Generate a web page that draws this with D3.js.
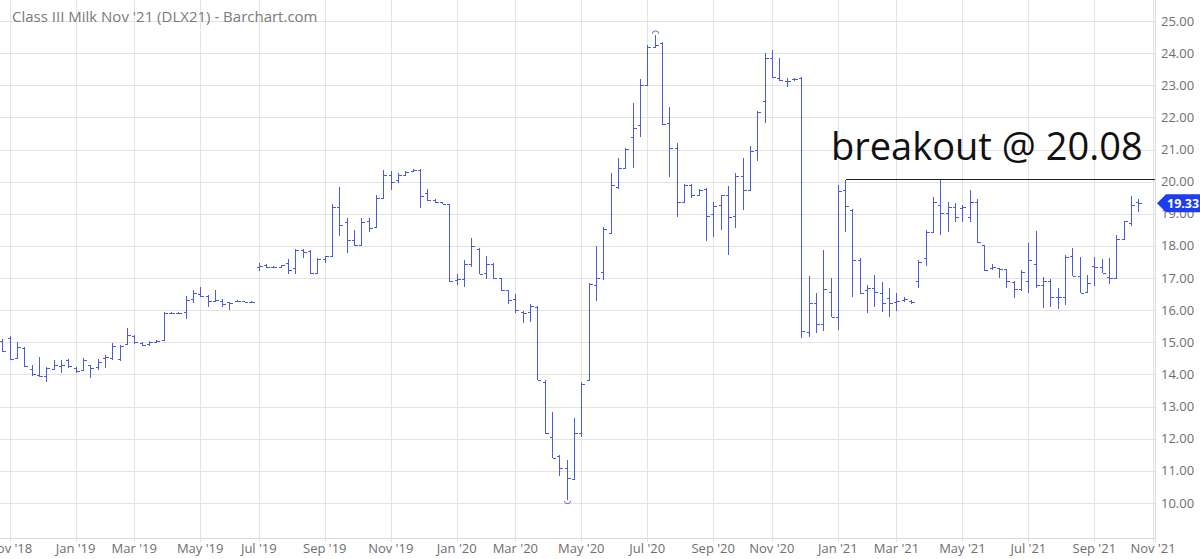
<!DOCTYPE html>
<html>
<head>
<meta charset="utf-8">
<script src="https://cdn.jsdelivr.net/npm/d3@7"></script>
<style>
  html, body { margin: 0; padding: 0; background: #fff; }
  svg { display: block; font-family: "Open Sans", "Noto Sans", sans-serif; }
</style>
</head>
<body>
<svg id="chart" width="1200" height="559"></svg>
<script>
// weekly bars, first week starts Monday 29 Oct 2018
const firstWeek = "2018-10-29";

const opens = [
  15.05,15.15,14.50,14.82,14.18,13.98,13.96,14.18,14.25,14.45,
  14.20,14.15,14.28,14.23,14.50,14.50,14.47,14.96,15.20,14.97,
  14.95,15.00,15.08,15.92,15.90,15.93,16.35,16.50,16.44,16.30,
  16.30,16.25,16.28,16.28,16.26,17.35,17.42,17.35,17.34,17.48,
  17.30,17.88,17.85,17.17,17.60,17.70,19.22,18.75,18.17,18.03,
  18.78,18.58,19.48,20.20,20.05,20.20,20.33,20.36,19.65,19.42,
  19.36,19.30,16.95,16.97,17.45,17.92,17.15,17.43,17.00,16.62,
  16.35,15.95,15.95,16.10,13.77,12.06,11.45,11.10,10.74,12.17,
  13.82,16.77,17.20,18.40,19.82,20.44,21.40,21.75,23.01,24.18,
  24.30,21.82,21.06,19.36,19.90,19.59,19.78,18.99,19.28,19.57,
  18.92,20.19,19.75,21.00,22.52,23.84,23.22,23.12,23.18,23.22,
  15.33,16.23,15.56,16.58,15.80,19.74,19.12,17.56,16.63,16.70,
  16.55,16.37,16.25,16.32,16.30,16.92,17.61,18.44,19.27,19.04,
  19.20,19.17,18.89,19.38,18.03,17.30,17.30,17.27,16.87,16.65,
  16.90,17.44,16.79,16.92,16.42,16.42,17.68,17.07,16.58,17.36,
  17.34,17.03,17.00,18.21,18.72,19.38
];
const highs = [
  15.10,15.20,15.00,14.86,14.30,14.54,14.23,14.46,14.44,14.48,
  14.23,14.51,14.30,14.48,14.61,14.98,14.93,15.44,15.23,15.00,
  15.05,15.08,15.93,15.95,15.94,16.43,16.62,16.72,16.47,16.62,
  16.36,16.26,16.32,16.30,16.28,17.46,17.45,17.38,17.42,17.60,
  17.90,17.92,17.87,17.64,17.70,19.32,19.82,18.86,18.50,18.86,
  18.86,19.58,20.36,20.34,20.26,20.34,20.38,20.38,19.76,19.45,
  19.38,19.32,17.12,17.55,18.25,17.94,17.70,17.47,17.01,16.64,
  16.49,15.98,16.20,16.12,13.82,12.84,11.49,11.34,12.63,13.77,
  16.85,17.99,18.60,20.27,20.75,21.04,22.44,23.20,24.24,24.57,
  24.34,22.31,21.20,19.92,19.92,19.78,19.80,19.36,19.59,19.88,
  20.27,20.73,21.10,22.20,24.00,24.10,23.84,23.22,23.24,23.27,
  17.05,16.55,17.87,16.99,19.90,20.05,19.14,17.61,16.78,17.10,
  16.89,16.68,16.52,16.42,16.32,17.56,18.50,19.53,20.08,19.38,
  19.35,19.27,19.74,19.45,18.03,17.44,17.30,17.27,16.90,17.26,
  18.10,18.45,17.03,16.96,16.68,17.72,17.93,17.67,17.10,17.67,
  17.59,17.62,18.34,18.79,19.55,19.45
];
const lows = [
  14.70,14.44,14.48,14.23,13.96,13.92,13.78,14.15,14.04,14.20,
  14.04,14.10,13.89,14.15,14.20,14.46,14.41,14.93,14.96,14.90,
  14.90,14.98,15.08,15.88,15.88,15.72,16.22,16.42,16.10,16.26,
  16.10,16.02,16.26,16.24,16.22,17.23,17.32,17.32,17.32,17.12,
  17.14,17.64,17.14,17.14,17.46,17.70,18.30,17.79,18.00,18.03,
  18.44,18.55,19.48,19.74,19.95,20.18,20.32,19.17,19.40,19.35,
  19.30,16.88,16.77,16.72,17.34,17.12,16.97,16.97,16.60,16.20,
  15.92,15.60,15.64,13.82,12.15,11.39,10.84,10.10,10.72,12.06,
  13.82,16.30,16.95,18.40,19.78,20.44,20.42,21.38,23.01,24.18,
  21.77,20.16,18.89,19.33,19.49,19.57,18.16,18.29,18.50,17.72,
  18.57,19.12,19.70,20.63,21.82,23.22,23.14,22.96,23.12,15.13,
  15.18,15.30,15.36,15.78,15.38,18.44,16.42,16.50,15.92,16.11,
  15.95,15.78,15.99,16.27,16.20,16.68,17.38,18.44,18.34,18.44,
  18.76,18.76,18.76,18.08,17.23,17.25,17.00,16.68,16.37,16.61,
  16.55,16.68,16.06,16.11,16.03,16.17,17.05,16.53,16.53,16.76,
  17.15,16.82,17.00,18.21,18.62,19.07
];
const closes = [
  14.72,14.47,14.85,14.25,14.00,13.96,14.20,14.30,14.30,14.25,
  14.12,14.45,14.20,14.40,14.55,14.90,14.88,15.23,15.00,14.92,
  15.00,15.05,15.90,15.90,15.92,16.33,16.55,16.45,16.28,16.32,
  16.20,16.22,16.30,16.27,16.25,17.38,17.35,17.34,17.40,17.25,
  17.87,17.82,17.17,17.60,17.70,19.22,18.65,18.18,18.03,18.75,
  18.55,19.50,20.20,20.00,20.20,20.30,20.36,19.56,19.43,19.38,
  19.32,16.91,16.97,17.45,17.99,17.14,17.43,16.99,16.62,16.33,
  16.02,15.92,16.12,13.84,12.17,11.41,11.08,10.77,12.17,13.70,
  16.83,17.00,18.53,19.90,20.44,21.02,21.67,23.00,24.20,24.26,
  21.79,21.04,19.36,19.90,19.59,19.75,18.92,19.23,19.57,18.89,
  20.19,19.75,20.94,22.18,23.84,23.25,23.17,23.12,23.20,15.36,
  16.23,15.56,16.65,15.80,19.72,19.24,17.56,16.52,16.68,16.58,
  16.23,16.21,16.30,16.34,16.24,17.51,18.44,19.38,19.04,19.22,
  18.89,19.20,19.38,18.13,17.25,17.34,17.27,16.90,16.65,17.18,
  17.56,16.79,16.92,16.42,16.42,17.65,17.07,16.55,16.84,17.34,
  17.17,17.00,18.21,18.79,19.28,19.33
];

const yTicks = [10,11,12,13,14,15,16,17,18,19,20,21,22,23,24,25];
const tickMonths = ["2018-11","2019-01","2019-03","2019-05","2019-07","2019-09","2019-11",
  "2020-01","2020-03","2020-05","2020-07","2020-09","2020-11",
  "2021-01","2021-03","2021-05","2021-07","2021-09","2021-11"];

const titleText = "Class III Milk Nov '21 (DLX21) - Barchart.com";
const breakoutLevel = 20.08;
const breakoutFrom = 115;     // bar index where the line starts
const lastPrice = 19.33;
const highIdx = 89, lowIdx = 77;

const svg = d3.select("#chart");
const plotRight = 1155, plotBottom = 538;

const parseDay = d3.timeParse("%Y-%m-%d");
const start = parseDay(firstWeek);
const bars = opens.map((o, i) => ({
  date: d3.timeDay.offset(start, 7 * i),
  o, h: highs[i], l: lows[i], c: closes[i]
}));

const x = d3.scaleTime()
  .domain([new Date(2019, 0, 1), new Date(2021, 10, 1)])
  .range([69.3, 1153]);
const y = d3.scaleLinear().domain([10, 25]).range([503, 21]);

const tickDates = tickMonths.map(m => d3.timeMonday.ceil(d3.timeParse("%Y-%m")(m)));
const fmtMonth = d3.timeFormat("%b '%y");

// grid
const grid = svg.append("g").attr("shape-rendering", "crispEdges");
grid.selectAll("line.h").data(yTicks).enter().append("line")
  .attr("x1", 0).attr("x2", plotRight)
  .attr("y1", d => Math.round(y(d)) + 0.5).attr("y2", d => Math.round(y(d)) + 0.5)
  .attr("stroke", "#e3e3e3");
grid.selectAll("line.v").data(tickDates).enter().append("line")
  .attr("x1", d => Math.round(x(d)) + 0.5).attr("x2", d => Math.round(x(d)) + 0.5)
  .attr("y1", 0).attr("y2", plotBottom + 4)
  .attr("stroke", "#e3e3e3");
grid.append("line")
  .attr("x1", 0).attr("x2", plotRight).attr("y1", plotBottom + 0.5).attr("y2", plotBottom + 0.5)
  .attr("stroke", "#dadada");
grid.append("line")
  .attr("x1", plotRight + 0.5).attr("x2", plotRight + 0.5).attr("y1", 0).attr("y2", plotBottom + 4)
  .attr("stroke", "#dadada");

// title
svg.append("text")
  .attr("x", 12).attr("y", 22)
  .attr("fill", "#7a7a7a").attr("font-size", 15)
  .text(titleText);

// axis labels
svg.append("g").selectAll("text").data(yTicks).enter().append("text")
  .attr("x", 1161).attr("y", d => y(d) + 4.5)
  .attr("font-size", 13).attr("fill", "#6e6e6e")
  .text(d => d3.format(".2f")(d));
svg.append("g").selectAll("text").data(tickDates).enter().append("text")
  .attr("x", d => x(d)).attr("y", 553)
  .attr("text-anchor", "middle")
  .attr("font-size", 13).attr("fill", "#6e6e6e")
  .text(d => fmtMonth(d));

// OHLC bars
const barColor = "#4a5cd6";
const g = svg.append("g").attr("stroke", barColor).attr("shape-rendering", "crispEdges");
const bx = d => Math.round(x(d.date)) + 0.5;
g.selectAll("line.hl").data(bars).enter().append("line")
  .attr("x1", bx).attr("x2", bx)
  .attr("y1", d => y(d.h)).attr("y2", d => y(d.l));
g.selectAll("line.o").data(bars).enter().append("line")
  .attr("x1", d => bx(d) - 3).attr("x2", bx)
  .attr("y1", d => Math.round(y(d.o)) + 0.5).attr("y2", d => Math.round(y(d.o)) + 0.5);
g.selectAll("line.c").data(bars).enter().append("line")
  .attr("x1", bx).attr("x2", d => bx(d) + 3)
  .attr("y1", d => Math.round(y(d.c)) + 0.5).attr("y2", d => Math.round(y(d.c)) + 0.5);

// high / low markers
const arc = d3.arc().innerRadius(2.2).outerRadius(2.2);
svg.append("path")
  .attr("transform", `translate(${bx(bars[highIdx])},${y(bars[highIdx].h) - 1})`)
  .attr("d", d3.arc()({innerRadius: 2.5, outerRadius: 3.3, startAngle: -Math.PI / 2, endAngle: Math.PI / 2}))
  .attr("fill", barColor);
svg.append("path")
  .attr("transform", `translate(${bx(bars[lowIdx])},${y(bars[lowIdx].l) + 1})`)
  .attr("d", d3.arc()({innerRadius: 2.5, outerRadius: 3.3, startAngle: Math.PI / 2, endAngle: Math.PI * 1.5}))
  .attr("fill", barColor);

// breakout annotation
svg.append("line")
  .attr("x1", bx(bars[breakoutFrom])).attr("x2", plotRight)
  .attr("y1", Math.round(y(breakoutLevel)) + 0.5).attr("y2", Math.round(y(breakoutLevel)) + 0.5)
  .attr("stroke", "#222").attr("stroke-width", 1).attr("shape-rendering", "crispEdges");
svg.append("text")
  .attr("x", 831).attr("y", 160)
  .attr("font-size", 38).attr("fill", "#111")
  .text("breakout @ " + breakoutLevel.toFixed(2));

// last price badge
const py = y(lastPrice);
svg.append("path")
  .attr("d", `M1157,${py} L1166,${py - 9} L1200,${py - 9} L1200,${py + 9} L1166,${py + 9} Z`)
  .attr("fill", "#1e3cf0");
svg.append("text")
  .attr("x", 1167).attr("y", py + 4.5)
  .attr("font-size", 12.5).attr("font-weight", "bold").attr("fill", "#fff")
  .text(lastPrice.toFixed(2));
</script>
</body>
</html>
